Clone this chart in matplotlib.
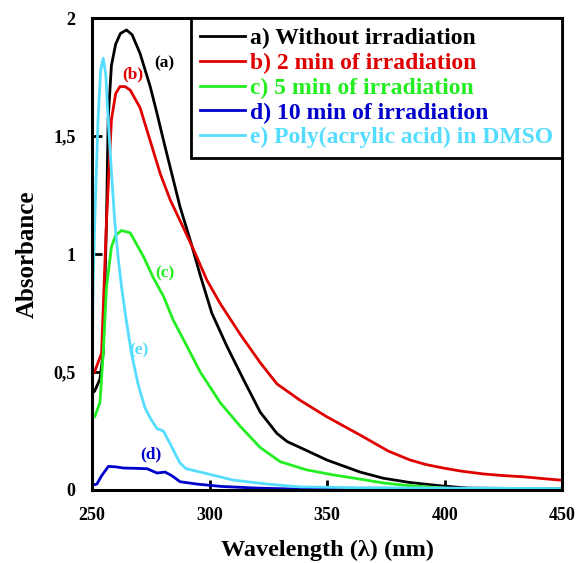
import numpy as np
import matplotlib.pyplot as plt

plt.rcParams['font.family'] = ['Liberation Serif', 'DejaVu Serif']
plt.rcParams['font.weight'] = 'bold'
plt.rcParams['axes.labelweight'] = 'bold'

# (a) without irradiation
wl_a = [250, 251.1, 253.3, 254.7, 256.1, 256.8, 258.2, 260, 262, 264.6, 267, 270.4, 274.7, 277.5, 280.4,
        283.9, 287.4, 291.7, 296, 300.9, 307.3, 314.3, 321.5, 328.6, 333, 338.5, 349.9, 364, 373.8, 385, 399,
        410, 450]
abs_a = [0.41, 0.42, 0.47, 0.58, 1.14, 1.57, 1.80, 1.89, 1.935, 1.95, 1.93, 1.85, 1.71, 1.60, 1.48,
         1.34, 1.20, 1.06, 0.91, 0.75, 0.61, 0.47, 0.33, 0.24, 0.205, 0.18, 0.127, 0.076, 0.05, 0.032, 0.017,
         0.008, 0.005]

# (b) 2 min
wl_b = [250, 251, 254, 256.1, 258.2, 260, 261.8, 264, 266.2, 270.4, 274.7, 279, 283.2, 288.9, 293.1, 298.8,
        304.5, 313, 321.5, 328.6, 338.5, 349.9, 364, 376, 385.3, 392, 399.4, 407, 416.4, 425, 433.4, 441, 449]
abs_b = [0.49, 0.5, 0.58, 1.14, 1.57, 1.68, 1.71, 1.71, 1.695, 1.62, 1.48, 1.34, 1.23, 1.11, 1.02, 0.89,
         0.79, 0.66, 0.54, 0.45, 0.38, 0.31, 0.233, 0.165, 0.127, 0.108, 0.093, 0.08, 0.068, 0.061, 0.056,
         0.049, 0.042]

# (c) 5 min
wl_c = [250, 251.1, 253.3, 254.7, 256.1, 258.2, 260, 262.5, 266.2, 271.8, 276, 280.4, 284.5, 290.3, 296,
        304.5, 313, 321.5, 330, 341.3, 352.6, 364, 373.8, 383, 392.5, 405, 450]
abs_c = [0.31, 0.31, 0.37, 0.58, 0.86, 1.03, 1.08, 1.10, 1.09, 0.99, 0.90, 0.82, 0.72, 0.61, 0.50,
         0.37, 0.27, 0.18, 0.12, 0.085, 0.064, 0.046, 0.03, 0.02, 0.013, 0.005, 0.003]

# (d) 10 min
wl_d = [250, 252, 254, 256.9, 260, 263.4, 268, 273.4, 277.6, 281, 284, 287.4, 294.6, 305, 320, 340, 450]
abs_d = [0.02, 0.025, 0.06, 0.10, 0.098, 0.093, 0.092, 0.09, 0.072, 0.076, 0.06, 0.035, 0.025, 0.015, 0.008,
         0.003, 0.002]

# (e) poly(acrylic acid) in DMSO
wl_e = [250, 250.4, 251.1, 252.5, 253.6, 254.7, 255.8, 256.8, 258.2, 259.6, 261, 262.5, 264.5, 266.7, 269.5,
        272.4, 275, 277.6, 280.3, 283, 285.5, 287.4, 290, 296, 310, 324.4, 338.5, 360, 400, 450]
abs_e = [0.5, 0.86, 1.14, 1.57, 1.78, 1.83, 1.76, 1.57, 1.35, 1.14, 0.99, 0.86, 0.72, 0.58, 0.45, 0.35, 0.3,
         0.26, 0.25, 0.2, 0.15, 0.114, 0.09, 0.076, 0.042, 0.025, 0.013, 0.01, 0.008, 0.006]

labels = ['a) Without irradiation', 'b) 2 min of irradiation', 'c) 5 min of irradiation',
          'd) 10 min of irradiation', 'e) Poly(acrylic acid) in DMSO']
colors = ['#000000', '#e00000', '#22ee22', '#0000cc', '#55ddff']

fig = plt.figure(figsize=(5.76, 5.63), dpi=100)
ax = fig.add_axes([0.16, 0.1297, 0.816, 0.838])

series = [(wl_a, abs_a), (wl_b, abs_b), (wl_c, abs_c), (wl_d, abs_d), (wl_e, abs_e)]
for (x, y), lab, c in zip(series, labels, colors):
    ax.plot(x, y, color=c, lw=2.0, label=lab, solid_joinstyle='round')

ax.text(280.6, 1.81, '(a)', color=colors[0], fontsize=12.5, ha='center', va='center')
ax.text(267.2, 1.76, '(b)', color=colors[1], fontsize=12.5, ha='center', va='center')
ax.text(281, 0.92, '(c)', color=colors[2], fontsize=12.5, ha='center', va='center')
ax.text(275, 0.15, '(d)', color=colors[3], fontsize=12.5, ha='center', va='center')
ax.text(270, 0.59, '(e)', color=colors[4], fontsize=12.5, ha='center', va='center')

ax.set_xlim(250, 450)
ax.set_ylim(0, 2)
ax.set_xticks([250, 300, 350, 400, 450])
ax.set_yticks([0, 0.5, 1, 1.5, 2])
ax.set_yticklabels(['0', '0,5', '1', '1,5', '2'])
ax.tick_params(direction='in', length=7, width=2, labelsize=13, pad=12)
for s in ax.spines.values():
    s.set_linewidth(2.2)

ax.set_xlabel('Wavelength (\u03bb) (nm)', fontsize=17.5, labelpad=12)
ax.set_ylabel('Absorbance', fontsize=18, labelpad=10)

leg = ax.legend(loc='upper right', borderaxespad=0, prop={'size': 17, 'weight': 'bold'},
                handlelength=1.9, handletextpad=0.2, labelspacing=0.14, borderpad=0.4,
                fancybox=False, framealpha=1, edgecolor='black')
leg.get_frame().set_linewidth(2)
for t, c in zip(leg.get_texts(), colors):
    t.set_color(c)

fig.savefig('out.png', dpi=100)
